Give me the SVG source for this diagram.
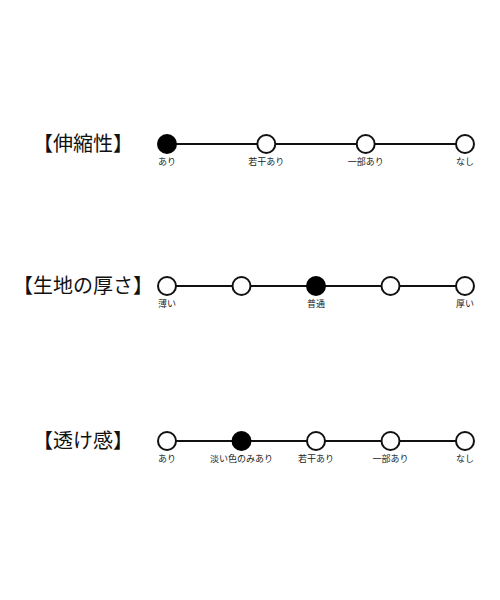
<svg xmlns="http://www.w3.org/2000/svg" width="500" height="600" viewBox="0 0 500 600">
<style>
.bg{fill:#ffffff}
.title{font-family:"Noto Sans CJK JP","Noto Sans",sans-serif;font-size:20px;fill:#111;text-anchor:middle}
.lbl{font-family:"Noto Sans CJK JP","Noto Sans",sans-serif;font-size:9px;fill:#222;text-anchor:middle}
.line{stroke:#111;stroke-width:2;fill:none}
.off{fill:#fff;stroke:#111;stroke-width:2}
.on{fill:#000;stroke:#000;stroke-width:2}
</style>
<rect class="bg" x="0" y="0" width="500" height="600"/>
<g id="connectors">
<line class="line" x1="167" y1="144" x2="465" y2="144"/>
<line class="line" x1="167" y1="286" x2="465" y2="286"/>
<line class="line" x1="167" y1="441" x2="465" y2="441"/>
</g>
<g id="row-stretch">
<text class="title" x="83" y="151">【伸縮性】</text>
<g id="s1"><circle class="on" cx="167" cy="144" r="9"/><text class="lbl" x="167" y="165">あり</text></g>
<g id="s2"><circle class="off" cx="266.3" cy="144" r="9"/><text class="lbl" x="266.3" y="165">若干あり</text></g>
<g id="s3"><circle class="off" cx="365.7" cy="144" r="9"/><text class="lbl" x="365.7" y="165">一部あり</text></g>
<g id="s4"><circle class="off" cx="465" cy="144" r="9"/><text class="lbl" x="465" y="165">なし</text></g>
</g>
<g id="row-thickness">
<text class="title" x="83" y="293">【生地の厚さ】</text>
<g id="t1"><circle class="off" cx="167" cy="286" r="9"/><text class="lbl" x="167" y="307">薄い</text></g>
<g id="t2"><circle class="off" cx="241.5" cy="286" r="9"/></g>
<g id="t3"><circle class="on" cx="316" cy="286" r="9"/><text class="lbl" x="316" y="307">普通</text></g>
<g id="t4"><circle class="off" cx="390.5" cy="286" r="9"/></g>
<g id="t5"><circle class="off" cx="465" cy="286" r="9"/><text class="lbl" x="465" y="307">厚い</text></g>
</g>
<g id="row-sheer">
<text class="title" x="83" y="448">【透け感】</text>
<g id="p1"><circle class="off" cx="167" cy="441" r="9"/><text class="lbl" x="167" y="462">あり</text></g>
<g id="p2"><circle class="on" cx="241.5" cy="441" r="9"/><text class="lbl" x="241.5" y="462">淡い色のみあり</text></g>
<g id="p3"><circle class="off" cx="316" cy="441" r="9"/><text class="lbl" x="316" y="462">若干あり</text></g>
<g id="p4"><circle class="off" cx="390.5" cy="441" r="9"/><text class="lbl" x="390.5" y="462">一部あり</text></g>
<g id="p5"><circle class="off" cx="465" cy="441" r="9"/><text class="lbl" x="465" y="462">なし</text></g>
</g>
</svg>
